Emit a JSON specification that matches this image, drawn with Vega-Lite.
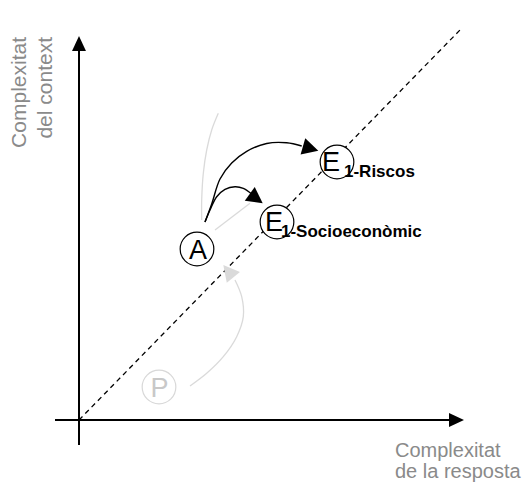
{
  "$schema": "https://vega.github.io/schema/vega-lite/v6.json",
  "width": 528,
  "height": 483,
  "padding": 0,
  "autosize": {"type": "none"},
  "background": "white",
  "config": {"view": {"stroke": null}, "text": {"font": "Liberation Sans"}},
  "datasets": {
    "paths": [
      {"id": "vaxis", "ord": 1, "x": 0, "y": -25},
      {"id": "vaxis", "ord": 2, "x": 0, "y": 372},
      {"id": "haxis", "ord": 1, "x": -24, "y": 0},
      {"id": "haxis", "ord": 2, "x": 372, "y": 0},
      {"id": "diag", "ord": 1, "x": 0, "y": 0},
      {"id": "diag", "ord": 2, "x": 381, "y": 390},
      {"id": "riscos", "ord": 1, "x": 126, "y": 198},
      {"id": "riscos", "ord": 2, "x": 132.7, "y": 216},
      {"id": "riscos", "ord": 3, "x": 141, "y": 241},
      {"id": "riscos", "ord": 4, "x": 152.7, "y": 257},
      {"id": "riscos", "ord": 5, "x": 167.7, "y": 268.7},
      {"id": "riscos", "ord": 6, "x": 187.7, "y": 276.5},
      {"id": "riscos", "ord": 7, "x": 207.7, "y": 277.2},
      {"id": "riscos", "ord": 8, "x": 222.7, "y": 274},
      {"id": "socio", "ord": 1, "x": 126, "y": 198},
      {"id": "socio", "ord": 2, "x": 131, "y": 210},
      {"id": "socio", "ord": 3, "x": 137.7, "y": 223.3},
      {"id": "socio", "ord": 4, "x": 146, "y": 230.7},
      {"id": "socio", "ord": 5, "x": 156, "y": 233.3},
      {"id": "socio", "ord": 6, "x": 164.3, "y": 231.7},
      {"id": "socio", "ord": 7, "x": 172.7, "y": 226},
      {"id": "gray_up", "ord": 1, "x": 122.7, "y": 200},
      {"id": "gray_up", "ord": 2, "x": 122.7, "y": 220},
      {"id": "gray_up", "ord": 3, "x": 124.3, "y": 246.7},
      {"id": "gray_up", "ord": 4, "x": 127.7, "y": 270},
      {"id": "gray_up", "ord": 5, "x": 132.7, "y": 290},
      {"id": "gray_up", "ord": 6, "x": 139.3, "y": 306.7},
      {"id": "gray_p", "ord": 1, "x": 111, "y": 34},
      {"id": "gray_p", "ord": 2, "x": 127.7, "y": 46.7},
      {"id": "gray_p", "ord": 3, "x": 144.3, "y": 63.3},
      {"id": "gray_p", "ord": 4, "x": 157.7, "y": 83.3},
      {"id": "gray_p", "ord": 5, "x": 164.3, "y": 103.3},
      {"id": "gray_p", "ord": 6, "x": 162.7, "y": 123.3},
      {"id": "gray_p", "ord": 7, "x": 156, "y": 140},
      {"id": "gray_ae", "ord": 1, "x": 136, "y": 190},
      {"id": "gray_ae", "ord": 2, "x": 171, "y": 216.7}
    ],
    "nodes": [
      {"id": "A", "x": 118, "y": 171, "tone": "dark"},
      {"id": "E1-Socioeconòmic", "x": 198, "y": 198, "tone": "dark"},
      {"id": "E1-Riscos", "x": 258, "y": 258, "tone": "dark"},
      {"id": "P", "x": 80, "y": 33, "tone": "light"}
    ],
    "letters": [
      {"text": "A", "x": 119, "y": 171, "tone": "dark"},
      {"text": "E", "x": 195, "y": 199, "tone": "dark"},
      {"text": "E", "x": 252, "y": 259, "tone": "dark"},
      {"text": "P", "x": 80.5, "y": 33, "tone": "light"}
    ],
    "labels": [
      {"text": "1-Socioeconòmic", "x": 202, "y": 183},
      {"text": "1-Riscos", "x": 265, "y": 243}
    ],
    "vtitle": [
      {"text": "Complexitat", "x": -59, "y": 383},
      {"text": "del context", "x": -33, "y": 383}
    ],
    "htitle": [
      {"text": "Complexitat", "x": 316, "y": -37},
      {"text": "de la resposta", "x": 316, "y": -58}
    ],
    "heads": [
      {"id": "vaxis", "x": 0, "y": 384},
      {"id": "haxis", "x": 385, "y": 0},
      {"id": "riscos", "x": 239.3, "y": 269.3},
      {"id": "socio", "x": 183.7, "y": 216.7},
      {"id": "gray_p", "x": 144.3, "y": 155}
    ]
  },
  "encoding": {
    "x": {"field": "x", "type": "quantitative", "scale": {"domain": [-79, 449], "nice": false, "zero": false}, "axis": null},
    "y": {"field": "y", "type": "quantitative", "scale": {"domain": [-63, 420], "nice": false, "zero": false}, "axis": null}
  },
  "layer": [
    {
      "data": {"name": "paths"},
      "transform": [{"filter": "datum.id === 'vaxis' || datum.id === 'haxis'"}],
      "mark": {"type": "line", "stroke": "black", "strokeWidth": 2},
      "encoding": {"detail": {"field": "id"}, "order": {"field": "ord", "type": "quantitative"}}
    },
    {
      "data": {"name": "paths"},
      "transform": [{"filter": "datum.id === 'diag'"}],
      "mark": {"type": "line", "stroke": "black", "strokeWidth": 1.3, "strokeDash": [5, 4]},
      "encoding": {"order": {"field": "ord", "type": "quantitative"}}
    },
    {
      "data": {"name": "paths"},
      "transform": [{"filter": "datum.id === 'gray_up' || datum.id === 'gray_p' || datum.id === 'gray_ae'"}],
      "mark": {"type": "line", "stroke": "#dadada", "strokeWidth": 1.3, "interpolate": "catmull-rom"},
      "encoding": {"detail": {"field": "id"}, "order": {"field": "ord", "type": "quantitative"}}
    },
    {
      "data": {"name": "paths"},
      "transform": [{"filter": "datum.id === 'riscos' || datum.id === 'socio'"}],
      "mark": {"type": "line", "stroke": "black", "strokeWidth": 1.4, "interpolate": "catmull-rom"},
      "encoding": {"detail": {"field": "id"}, "order": {"field": "ord", "type": "quantitative"}}
    },
    {
      "data": {"name": "nodes"},
      "transform": [{"filter": "datum.tone === 'dark'"}],
      "mark": {"type": "point", "shape": "circle", "size": 1134, "filled": false, "fill": "white", "fillOpacity": 1, "stroke": "black", "strokeWidth": 1.2, "opacity": 1}
    },
    {
      "data": {"name": "nodes"},
      "transform": [{"filter": "datum.tone === 'light'"}],
      "mark": {"type": "point", "shape": "circle", "size": 1134, "filled": false, "fill": "white", "fillOpacity": 1, "stroke": "#d8d8d8", "strokeWidth": 1.2, "opacity": 1}
    },
    {
      "data": {"name": "letters"},
      "transform": [{"filter": "datum.tone === 'dark'"}],
      "mark": {"type": "text", "fontSize": 27, "align": "center", "baseline": "alphabetic", "dy": 9.6, "fill": "black"},
      "encoding": {"text": {"field": "text"}}
    },
    {
      "data": {"name": "letters"},
      "transform": [{"filter": "datum.tone === 'light'"}],
      "mark": {"type": "text", "fontSize": 27, "align": "center", "baseline": "alphabetic", "dy": 9.6, "fill": "#c8c8c8"},
      "encoding": {"text": {"field": "text"}}
    },
    {
      "data": {"name": "labels"},
      "mark": {"type": "text", "fontSize": 17, "fontWeight": "bold", "align": "left", "baseline": "alphabetic", "fill": "black"},
      "encoding": {"text": {"field": "text"}}
    },
    {
      "data": {"name": "vtitle"},
      "mark": {"type": "text", "fontSize": 21, "angle": 270, "align": "right", "baseline": "middle", "fill": "#8a8a8a"},
      "encoding": {"text": {"field": "text"}}
    },
    {
      "data": {"name": "htitle"},
      "mark": {"type": "text", "fontSize": 20, "align": "left", "baseline": "alphabetic", "fill": "#8a8a8a"},
      "encoding": {"text": {"field": "text"}}
    },
    {
      "data": {"name": "heads"},
      "transform": [{"filter": "datum.id === 'vaxis'"}],
      "mark": {"type": "point", "shape": "M0,0L-2,-0.93L-2,0.93Z", "size": 225, "angle": 270, "filled": true, "fill": "black", "opacity": 1, "strokeWidth": 0}
    },
    {
      "data": {"name": "heads"},
      "transform": [{"filter": "datum.id === 'haxis'"}],
      "mark": {"type": "point", "shape": "M0,0L-2,-0.93L-2,0.93Z", "size": 225, "angle": 0, "filled": true, "fill": "black", "opacity": 1, "strokeWidth": 0}
    },
    {
      "data": {"name": "heads"},
      "transform": [{"filter": "datum.id === 'riscos'"}],
      "mark": {"type": "point", "shape": "M0,0L-2,-1.06L-2,1.06Z", "size": 256, "angle": 16, "filled": true, "fill": "black", "opacity": 1, "strokeWidth": 0}
    },
    {
      "data": {"name": "heads"},
      "transform": [{"filter": "datum.id === 'socio'"}],
      "mark": {"type": "point", "shape": "M0,0L-2,-1.06L-2,1.06Z", "size": 256, "angle": 36, "filled": true, "fill": "black", "opacity": 1, "strokeWidth": 0}
    },
    {
      "data": {"name": "heads"},
      "transform": [{"filter": "datum.id === 'gray_p'"}],
      "mark": {"type": "point", "shape": "M0,0L-2,-1.06L-2,1.06Z", "size": 256, "angle": 231, "filled": true, "fill": "#dadada", "opacity": 1, "strokeWidth": 0}
    }
  ]
}
